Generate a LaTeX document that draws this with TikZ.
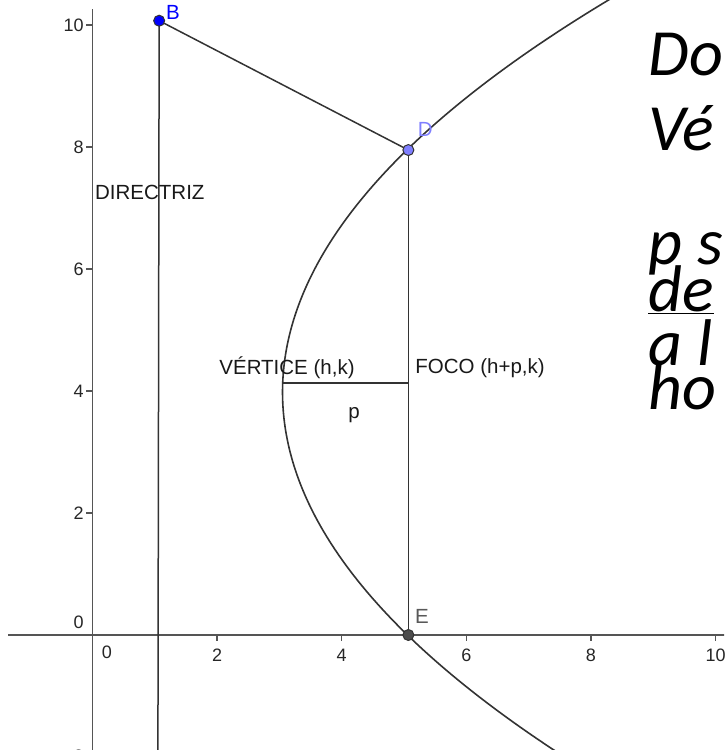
\documentclass[tikz,border=0pt]{standalone}
\usepackage{fontspec}
\setmainfont{Liberation Sans}
\newfontfamily\slidefont{Carlito}
\definecolor{axisgray}{HTML}{555555}
\definecolor{ptblue}{HTML}{0000FF}
\definecolor{ptlight}{HTML}{7F7FFF}
\definecolor{ptgray}{HTML}{4D4D4D}
\tikzset{
  axisline/.style={draw=axisgray,line width=1.8pt},
  tickline/.style={draw=axisgray,line width=1.4pt},
  geoline/.style={draw=black!80,line width=1.5pt},
  numlbl/.style={font=\fontsize{18}{20}\selectfont,text=black!85,inner sep=0pt},
  geolbl/.style={font=\fontsize{20.5}{23}\selectfont,text=black!90,inner sep=0pt},
  ptdot/.style={circle,draw=black!80,line width=1pt,minimum size=11pt,inner sep=0pt},
  slidetxt/.style={font=\fontsize{66}{66}\selectfont\slidefont\itshape,inner sep=0pt,anchor=base west}
}
\begin{document}
\begin{tikzpicture}[x=62.3pt,y=61pt]
\useasboundingbox (-1.4848,-1.8852) rectangle (10.1364,10.4098);
\clip (-1.4848,-1.8852) rectangle (10.1364,10.4098);
% axes
\coordinate (yb) at (0,-1.9);
\coordinate (yt) at (0,10.26);
\coordinate (xl) at (-1.356,0);
\coordinate (xr) at (10.2,0);
\draw[axisline] (yb) -- (yt);
\draw[axisline] (xl) -- (xr);
\foreach \v in {2,4,6,8,10}{
  \draw[tickline] (-0.1,\v) -- (0,\v);
  \node[numlbl,anchor=east] at (-0.14,\v) {\v};
}
\node[numlbl,anchor=east] at (-0.14,-2) {$-$2};
\node[numlbl,anchor=east] at (-0.14,0.2) {0};
\foreach \u in {2,4,6,8,10}{
  \draw[tickline] (\u,0) -- (\u,-0.1);
  \node[numlbl] at (\u,-0.33) {\u};
}
\node[numlbl] at (0.23,-0.28) {0};
% parabola
\draw[geoline,line width=1.6pt,domain=-6.1:6.6,samples=120,smooth,variable=\t]
  plot ({3.05+\t*\t/7.9},{3.98+\t});
% points
\coordinate (Bp) at (1.07,10.07);
\coordinate (Dp) at (5.07,7.95);
\coordinate (Ep) at (5.07,0);
\coordinate (dirb) at (1.05,-1.9);
\coordinate (V) at (3.053,4.13);
\coordinate (F) at (5.07,4.13);
\draw[geoline] (Bp) -- (dirb);
\draw[geoline] (Bp) -- (Dp);
\draw[geoline] (Dp) -- (Ep);
\draw[geoline,line width=1.3pt] (V) -- (F);
\node[ptdot,fill=ptblue] (B) at (Bp) {};
\node[ptdot,fill=ptlight] (D) at (Dp) {};
\node[ptdot,fill=ptgray] (E) at (Ep) {};
\node[geolbl,text=ptblue] (Bl) at (1.29,10.2) {B};
\node[geolbl,text=ptlight] (Dl) at (5.34,8.28) {D};
\node[geolbl,text=black!65] (El) at (5.29,0.3) {E};
\node[geolbl,anchor=west] (dir) at (0.04,7.25) {DIRECTRIZ};
\node[geolbl,anchor=east] (vert) at (4.21,4.38) {VÉRTICE (h,k)};
\node[geolbl,anchor=west] (foco) at (5.18,4.38) {FOCO (h+p,k)};
\node[geolbl] (p) at (4.2,3.61) {p};
% slide text
\node[slidetxt] (t1) at (8.92,9.18) {Do};
\node[slidetxt] (t2) at (8.92,7.95) {Vé};
\node[slidetxt] (t3) at (8.92,6.08) {p s};
\node[slidetxt] (t4) at (8.92,5.3) {\underline{de}};
\node[slidetxt] (t5) at (8.92,4.42) {a l};
\node[slidetxt] (t6) at (8.92,3.7) {ho};
\end{tikzpicture}
\end{document}
